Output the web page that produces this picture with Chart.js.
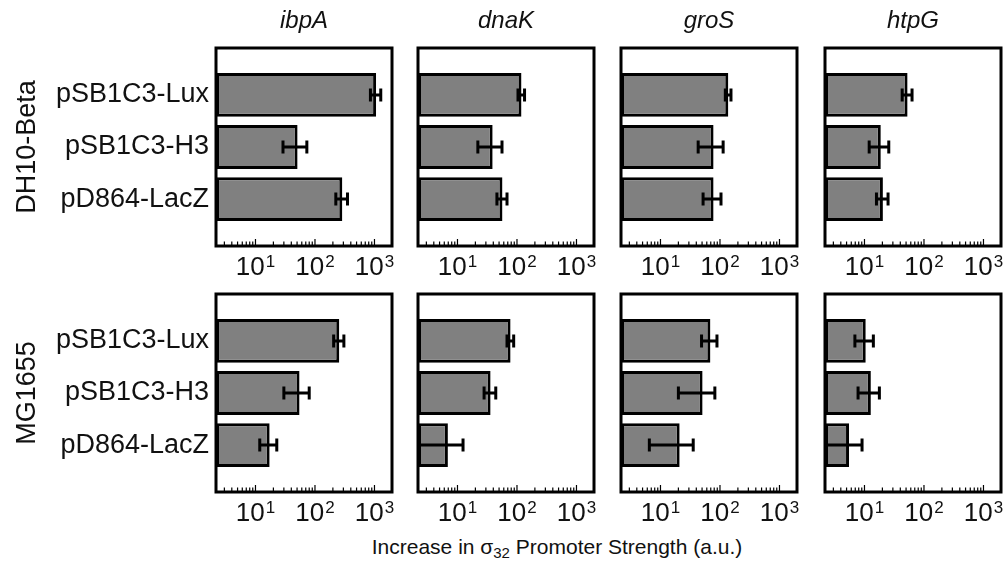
<!DOCTYPE html>
<html>
<head>
<meta charset="utf-8">
<script src="https://cdn.jsdelivr.net/npm/chart.js@4.4.0/dist/chart.umd.min.js"></script>
<style>
  body { margin: 0; background: #fff; }
  #wrap { position: relative; width: 1007px; height: 563px; overflow: hidden; }
  #wrap canvas { position: absolute; }
  #xtitle {
    position: absolute; left: 357px; width: 400px; top: 534px;
    text-align: center; color: #111;
    font: 21px "Liberation Sans", Arial, sans-serif; line-height: 26px;
  }
  #xtitle sub { font-size: 15px; vertical-align: -4px; line-height: 0; }
</style>
</head>
<body>
<div id="wrap">
  <div id="xtitle">Increase in &sigma;<sub>32</sub> Promoter Strength (a.u.)</div>
</div>
<script>
// data
const genes = ['ibpA', 'dnaK', 'groS', 'htpG'];
const strains = ['DH10-Beta', 'MG1655'];
const plasmids = ['pSB1C3-Lux', 'pSB1C3-H3', 'pD864-LacZ'];

// one row per gene, values in plasmid order
const dh10Mean = [
  [1065, 51, 288],
  [119, 39, 57],
  [138, 78, 78],
  [53, 18.8, 20.4]
];
const dh10Sd = [
  [210, 22, 64],
  [15, 17, 11],
  [15, 35, 26],
  [10, 6.8, 4.5]
];
const mg1655Mean = [
  [256, 55, 17.3],
  [78, 36, 6.9],
  [69, 51, 21],
  [10.5, 12.8, 5.5]
];
const mg1655Sd = [
  [50, 25, 5.5],
  [10, 8, 5.5],
  [20, 31, 14.5],
  [3.6, 5, 3.6]
];

const tickValues = [10, 100, 1000];
const tickExponents = ['1', '2', '3'];
const axisMin = 2.17;
const axisMax = 1970;

// =========================
// layout / style
// =========================
const FONT = '"Liberation Sans", Arial, sans-serif';
const TEXT = '#111';
const chartLeft = [216, 418, 621, 825];
const PLOT_W = 176;

// box, inner log ticks, error bars, 10^n labels
const panelDecor = {
  id: 'panelDecor',
  afterDatasetsDraw(chart) {
    const ctx = chart.ctx;
    const xs = chart.scales.x;
    const area = chart.chartArea;
    const ds = chart.data.datasets[0];
    const meta = chart.getDatasetMeta(0);

    ctx.save();
    ctx.strokeStyle = '#000';
    ctx.lineWidth = 3;
    meta.data.forEach((bar, i) => {
      const m = ds.means[i], sd = ds.errors[i];
      const lo = m - sd;
      const loPx = lo > xs.min ? xs.getPixelForValue(lo) : area.left;
      const hiPx = xs.getPixelForValue(m + sd);
      const y = bar.y;
      ctx.beginPath();
      ctx.moveTo(loPx, y); ctx.lineTo(hiPx, y);
      ctx.moveTo(hiPx, y - 6.5); ctx.lineTo(hiPx, y + 6.5);
      if (lo > xs.min) {
        ctx.moveTo(loPx, y - 6.5); ctx.lineTo(loPx, y + 6.5);
      }
      ctx.stroke();
    });

    // frame
    ctx.strokeRect(area.left, area.top, area.right - area.left, area.bottom - area.top);

    // inside log ticks
    ctx.lineWidth = 1.2;
    ctx.beginPath();
    for (let n = Math.floor(Math.log10(xs.min)); n <= Math.ceil(Math.log10(xs.max)); n++) {
      for (let k = 1; k <= 9; k++) {
        const v = k * Math.pow(10, n);
        if (v <= xs.min || v >= xs.max) continue;
        const px = xs.getPixelForValue(v);
        ctx.moveTo(px, area.bottom);
        ctx.lineTo(px, area.bottom - (k === 1 ? 7 : 4.5));
      }
    }
    ctx.stroke();

    // tick labels with a real superscript
    ctx.fillStyle = TEXT;
    ctx.textBaseline = 'alphabetic';
    ctx.textAlign = 'left';
    const base = area.bottom + 29;
    tickValues.forEach((v, i) => {
      const px = xs.getPixelForValue(v);
      ctx.font = '26px ' + FONT;
      const w1 = ctx.measureText('10').width;
      ctx.font = '17px ' + FONT;
      const w2 = ctx.measureText(tickExponents[i]).width;
      const x0 = px - (w1 + 1 + w2) / 2;
      ctx.font = '26px ' + FONT;
      ctx.fillText('10', x0, base);
      ctx.font = '17px ' + FONT;
      ctx.fillText(tickExponents[i], x0 + w1 + 1, base - 8);
    });
    ctx.restore();
  }
};

function makePanel(r, c) {
  const canvas = document.createElement('canvas');
  const left = c === 0 ? 0 : chartLeft[c] - 8;
  const width = c === 0 ? chartLeft[0] + PLOT_W + 8 : PLOT_W + 16;
  const top = r === 0 ? 0 : 286;
  const height = r === 0 ? 286 : 246;
  canvas.width = width;
  canvas.height = height;
  canvas.style.left = left + 'px';
  canvas.style.top = top + 'px';
  document.getElementById('wrap').appendChild(canvas);

  const means = r === 0 ? dh10Mean[c] : mg1655Mean[c];
  const sds = r === 0 ? dh10Sd[c] : mg1655Sd[c];
  const first = c === 0;

  new Chart(canvas, {
    type: 'bar',
    data: {
      datasets: [{
        data: means.map((v, i) => ({ x: v, y: i })),
        means: means,
        errors: sds,
        backgroundColor: '#808080',
        borderColor: '#000',
        borderWidth: 3,
        borderSkipped: false,
        barPercentage: 0.84,
        categoryPercentage: 1
      }]
    },
    options: {
      indexAxis: 'y',
      responsive: false,
      animation: false,
      layout: { padding: { left: first ? 0 : 8, right: 8, top: r === 0 ? 0 : 8, bottom: 0 } },
      plugins: {
        legend: { display: false },
        tooltip: { enabled: false },
        title: {
          display: r === 0,
          fullSize: false,
          text: genes[c],
          color: TEXT,
          font: { family: FONT, size: 24, style: 'italic', weight: 'normal', lineHeight: 1.1 },
          padding: { top: 8, bottom: 13.6 }
        }
      },
      scales: {
        x: {
          type: 'logarithmic',
          position: 'bottom',
          min: axisMin,
          max: axisMax,
          afterBuildTicks: s => { s.ticks = tickValues.map(v => ({ value: v })); },
          afterFit: s => { s.height = 40; s.paddingLeft = 0; s.paddingRight = 0; },
          ticks: { display: false },
          grid: { display: false, drawTicks: false },
          border: { display: false }
        },
        y: {
          type: 'linear',
          reverse: true,
          offset: false,
          min: -0.9,
          max: 2.9,
          afterBuildTicks: s => { s.ticks = plasmids.map((p, i) => ({ value: i })); },
          afterFit: s => {
            s.width = first ? chartLeft[0] : 0;
            s.paddingTop = 0;
            s.paddingBottom = 0;
          },
          ticks: {
            display: first,
            padding: 7, color: TEXT, font: { family: FONT, size: 27 },
            callback: (v, i) => plasmids[i]
          },
          grid: { display: false, drawTicks: false },
          border: { display: false },
          title: {
            display: first,
            text: strains[r],
            color: TEXT,
            font: { family: FONT, size: 27 },
            padding: { top: 11, bottom: 0 }
          }
        }
      }
    },
    plugins: [panelDecor]
  });
}

for (let r = 0; r < 2; r++) {
  for (let c = 0; c < 4; c++) makePanel(r, c);
}
</script>
</body>
</html>
